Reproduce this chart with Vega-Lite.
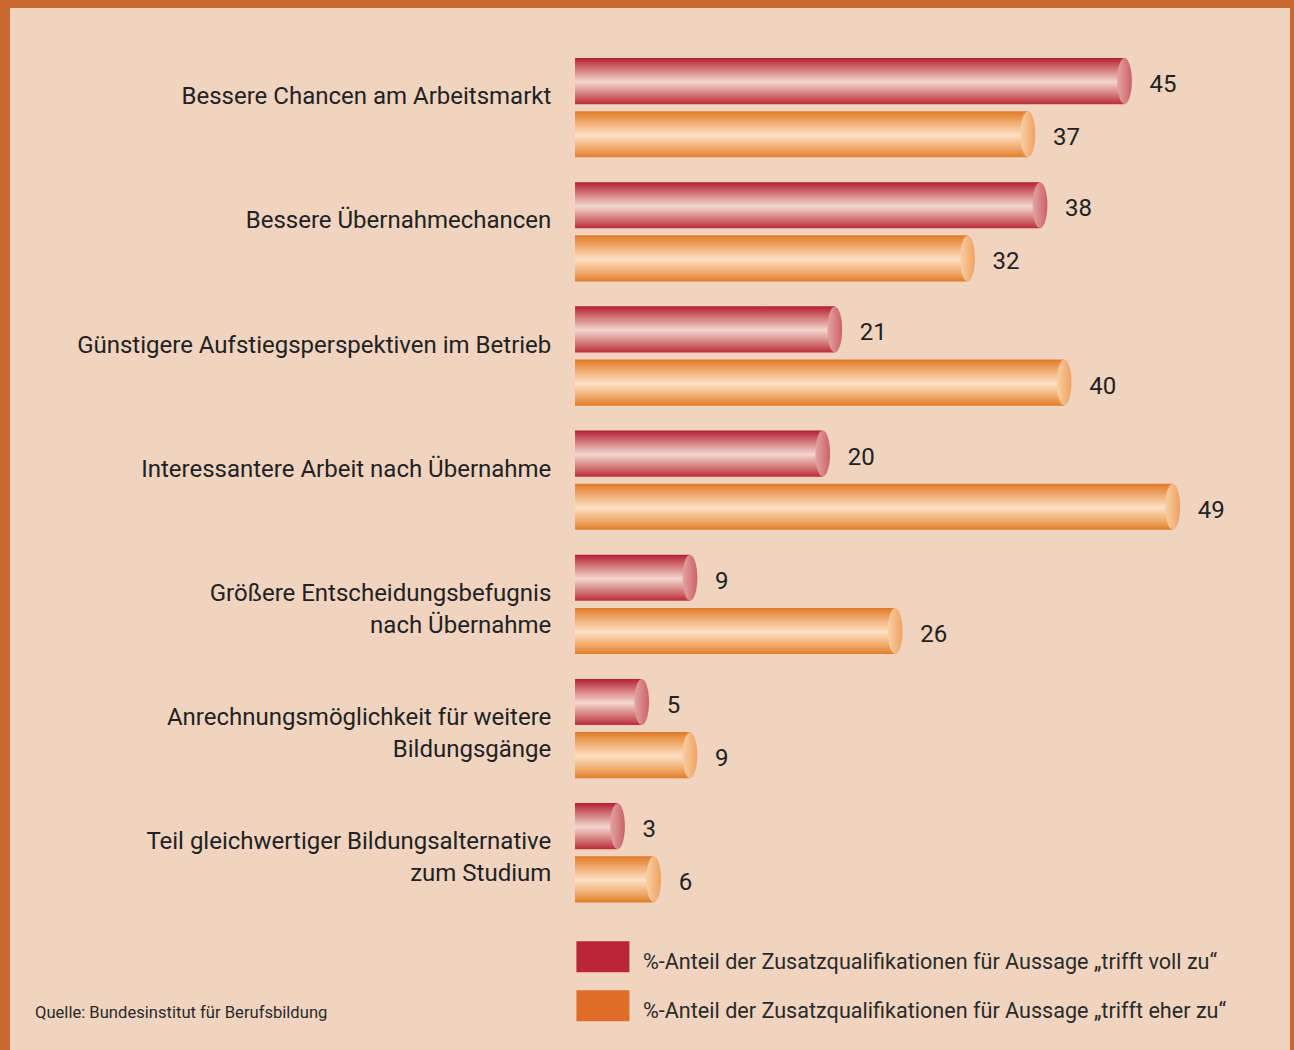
{
  "$schema": "https://vega.github.io/schema/vega-lite/v6.json",
  "width": 1280,
  "height": 1042,
  "autosize": "none",
  "padding": {"left": 10, "top": 8, "right": 4, "bottom": 0},
  "background": "#c8692d",
  "config": {
    "view": {"stroke": null, "fill": "#f0d4c0"},
    "font": "Roboto"
  },
  "title": {
    "text": "Quelle: Bundesinstitut für Berufsbildung",
    "orient": "bottom",
    "anchor": "start",
    "offset": -32,
    "dx": 25,
    "baseline": "alphabetic",
    "fontSize": 16.6,
    "fontWeight": "normal",
    "font": "Roboto",
    "color": "#2a2a2a"
  },
  "data": {
    "values": [
      {"cat": "Bessere Chancen am Arbeitsmarkt", "s": "voll", "v": 45},
      {"cat": "Bessere Chancen am Arbeitsmarkt", "s": "eher", "v": 37},
      {"cat": "Bessere Übernahmechancen", "s": "voll", "v": 38},
      {"cat": "Bessere Übernahmechancen", "s": "eher", "v": 32},
      {"cat": "Günstigere Aufstiegsperspektiven im Betrieb", "s": "voll", "v": 21},
      {"cat": "Günstigere Aufstiegsperspektiven im Betrieb", "s": "eher", "v": 40},
      {"cat": "Interessantere Arbeit nach Übernahme", "s": "voll", "v": 20},
      {"cat": "Interessantere Arbeit nach Übernahme", "s": "eher", "v": 49},
      {"cat": "Größere Entscheidungsbefugnis|nach Übernahme", "s": "voll", "v": 9},
      {"cat": "Größere Entscheidungsbefugnis|nach Übernahme", "s": "eher", "v": 26},
      {"cat": "Anrechnungsmöglichkeit für weitere|Bildungsgänge", "s": "voll", "v": 5},
      {"cat": "Anrechnungsmöglichkeit für weitere|Bildungsgänge", "s": "eher", "v": 9},
      {"cat": "Teil gleichwertiger Bildungsalternative|zum Studium", "s": "voll", "v": 3},
      {"cat": "Teil gleichwertiger Bildungsalternative|zum Studium", "s": "eher", "v": 6}
    ]
  },
  "encoding": {
    "y": {
      "field": "cat",
      "type": "nominal",
      "sort": null,
      "axis": null,
      "scale": {"type": "band", "range": [50, 894.4], "paddingInner": 0.2, "paddingOuter": 0}
    }
  },
  "layer": [
    {
      "mark": {"type": "bar", "x2Offset": -6.3},
      "encoding": {
        "x": {"field": "v", "type": "quantitative", "axis": null, "scale": {"domain": [-47.33, 58.71], "nice": false, "zero": false}},
        "x2": {"datum": 0},
        "yOffset": {"field": "s", "type": "nominal", "scale": {"domain": ["voll", "eher"], "paddingInner": 0.132, "paddingOuter": 0}},
        "fill": {
          "condition": {
            "test": "datum.s === 'voll'",
            "value": {"gradient": "linear", "x1": 0, "y1": 0, "x2": 0, "y2": 1,
              "stops": [
                {"offset": 0, "color": "#b51e33"},
                {"offset": 0.25, "color": "#d47a7c"},
                {"offset": 0.52, "color": "#f3d6cc"},
                {"offset": 0.8, "color": "#d27676"},
                {"offset": 1, "color": "#bb2c3a"}
              ]}
          },
          "value": {"gradient": "linear", "x1": 0, "y1": 0, "x2": 0, "y2": 1,
            "stops": [
              {"offset": 0, "color": "#e07a25"},
              {"offset": 0.25, "color": "#f0ad73"},
              {"offset": 0.52, "color": "#fde0c4"},
              {"offset": 0.8, "color": "#f0aa6c"},
              {"offset": 1, "color": "#e07d28"}
            ]}
        }
      }
    },
    {
      "mark": {"type": "point", "shape": "M0,-1A0.32,1 0 1,1 0,1A0.32,1 0 1,1 0,-1Z", "size": 2116, "filled": true, "opacity": 1, "strokeWidth": 0},
      "encoding": {
        "x": {"field": "v", "type": "quantitative"},
        "yOffset": {"field": "s", "type": "nominal"},
        "fill": {
          "condition": {
            "test": "datum.s === 'voll'",
            "value": {"gradient": "linear", "x1": 0, "y1": 0, "x2": 1, "y2": 0,
              "stops": [
                {"offset": 0, "color": "#e3a4a2"},
                {"offset": 1, "color": "#cc6167"}
              ]}
          },
          "value": {"gradient": "linear", "x1": 0, "y1": 0, "x2": 1, "y2": 0,
            "stops": [
              {"offset": 0, "color": "#f9cfa4"},
              {"offset": 1, "color": "#efa260"}
            ]}
        }
      }
    },
    {
      "mark": {"type": "text", "align": "left", "baseline": "middle", "dx": 25, "dy": 4, "fontSize": 24, "color": "#222222"},
      "encoding": {
        "x": {"field": "v", "type": "quantitative"},
        "yOffset": {"field": "s", "type": "nominal"},
        "text": {"field": "v", "type": "quantitative"}
      }
    },
    {
      "transform": [{"filter": "datum.s === 'voll'"}],
      "mark": {"type": "text", "align": "right", "baseline": "alphabetic", "dx": -30, "dy": -3.5, "fontSize": 24, "lineBreak": "|", "lineHeight": 32, "color": "#222222"},
      "encoding": {
        "x": {"datum": 0},
        "text": {"field": "cat", "type": "nominal"}
      }
    },
    {
      "mark": {"type": "square", "opacity": 0},
      "encoding": {
        "x": {"field": "v", "type": "quantitative"},
        "yOffset": {"field": "s", "type": "nominal"},
        "color": {
          "field": "s",
          "type": "nominal",
          "scale": {"domain": ["voll", "eher"], "range": ["#bb2637", "#e06d27"]},
          "legend": {
            "orient": "none",
            "legendX": 566,
            "legendY": 939,
            "title": null,
            "symbolType": "M-1,-1.4H2.4V0.6H-1Z",
            "symbolSize": 973,
            "symbolStrokeWidth": 0,
            "symbolOpacity": 1,
            "labelFontSize": 21.6,
            "labelFont": "Roboto",
            "labelColor": "#2a2a2a",
            "labelOffset": 35,
            "rowPadding": 16,
            "labelLimit": 900,
            "labelExpr": "datum.value === 'voll' ? '%-Anteil der Zusatzqualifikationen für Aussage „trifft voll zu“' : '%-Anteil der Zusatzqualifikationen für Aussage „trifft eher zu“'"
          }
        }
      }
    }
  ]
}
